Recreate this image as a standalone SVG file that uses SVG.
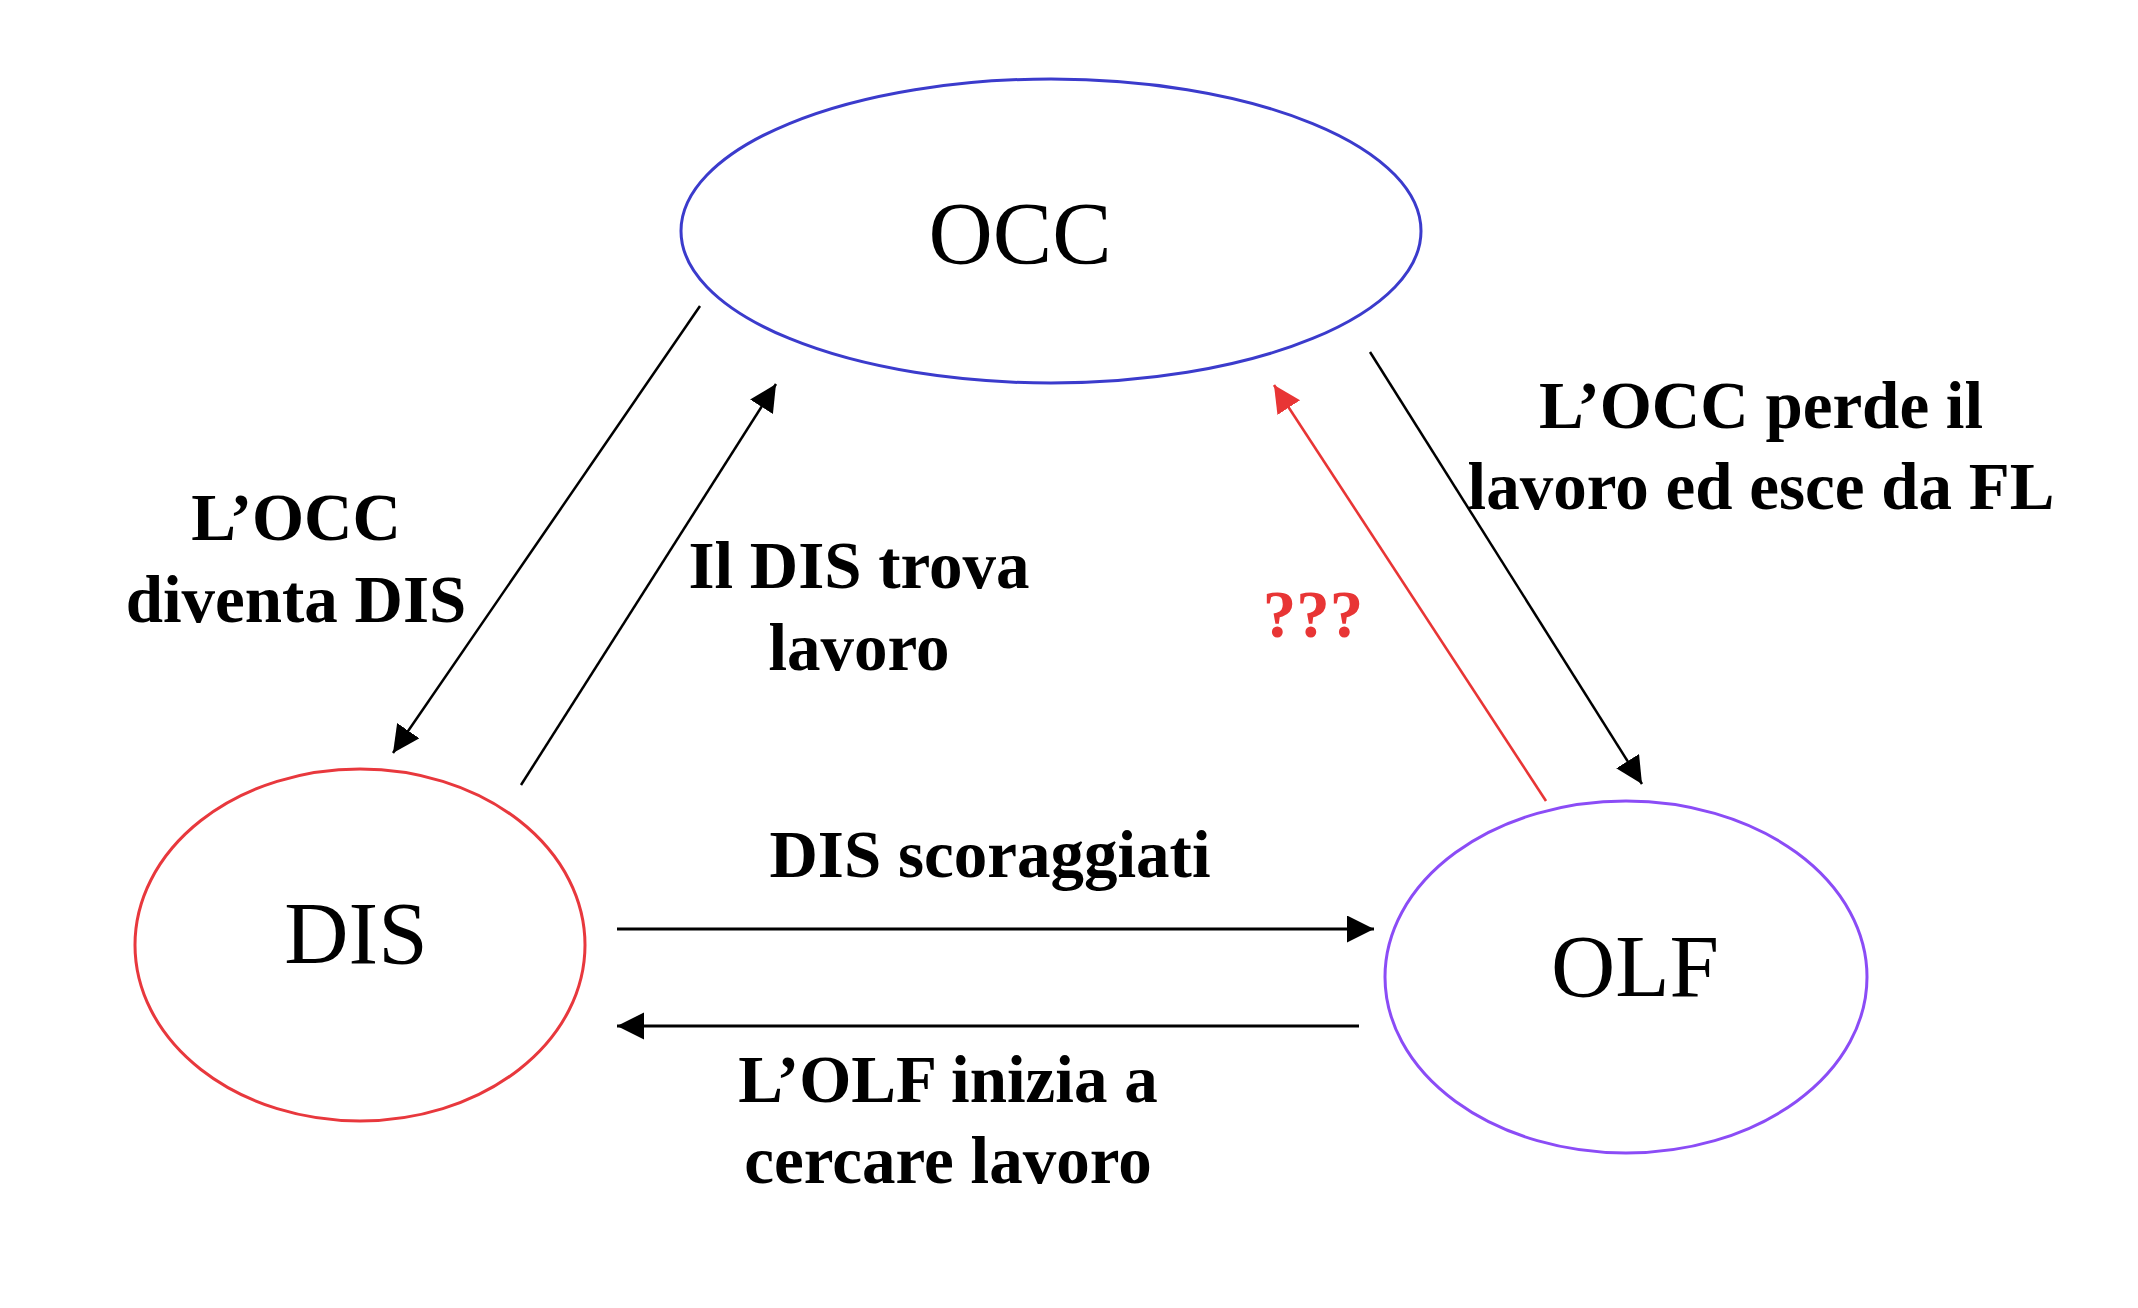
<svg xmlns="http://www.w3.org/2000/svg" width="2138" height="1308" viewBox="0 0 2138 1308">
<style>
.node{fill:none;stroke-width:3}
.nlabel{font-family:"Liberation Serif","Times New Roman",serif;font-size:89px;fill:#000;text-anchor:middle}
.elabel{font-family:"Liberation Serif","Times New Roman",serif;font-size:67px;font-weight:bold;fill:#000;text-anchor:middle}
.edge{fill:none;stroke:#000;stroke-width:2.5}
</style>
<defs>
<marker id="ah" markerUnits="userSpaceOnUse" markerWidth="28" markerHeight="28" refX="27" refY="13.5" orient="auto" viewBox="0 0 28 28">
<path d="M0,0 L27,13.5 L0,27 z" fill="#000"/>
</marker>
<marker id="ahr" markerUnits="userSpaceOnUse" markerWidth="28" markerHeight="28" refX="27" refY="13.5" orient="auto" viewBox="0 0 28 28">
<path d="M0,0 L27,13.5 L0,27 z" fill="#e83535"/>
</marker>
</defs>
<rect width="2138" height="1308" fill="#fff"/>
<g id="connectors">
<line class="edge" x1="700" y1="306" x2="393" y2="753" marker-end="url(#ah)"/>
<line class="edge" x1="521" y1="785" x2="776" y2="384" marker-end="url(#ah)"/>
<line class="edge" x1="1370" y1="352" x2="1642" y2="784" marker-end="url(#ah)"/>
<line class="edge" x1="1546" y1="801" x2="1274" y2="385" style="stroke:#e83535;stroke-width:2.6" marker-end="url(#ahr)"/>
<line class="edge" x1="617" y1="929" x2="1374" y2="929" style="stroke-width:3" marker-end="url(#ah)"/>
<line class="edge" x1="1359" y1="1026" x2="617" y2="1026" style="stroke-width:3" marker-end="url(#ah)"/>
<text class="elabel" x="296" y="540">L’OCC</text>
<text class="elabel" x="296" y="622">diventa DIS</text>
<text class="elabel" x="859" y="588">Il DIS trova</text>
<text class="elabel" x="859" y="670">lavoro</text>
<text class="elabel" x="1761" y="428">L’OCC perde il</text>
<text class="elabel" x="1761" y="509">lavoro ed esce da FL</text>
<text class="elabel" x="1313" y="637" style="fill:#e83535">???</text>
<text class="elabel" x="990" y="877">DIS scoraggiati</text>
<text class="elabel" x="948" y="1102">L’OLF inizia a</text>
<text class="elabel" x="948" y="1183">cercare lavoro</text>
</g>
<g id="node-occ">
<ellipse class="node" cx="1051" cy="231" rx="370" ry="152" stroke="#3b3bcc"/>
<text class="nlabel" x="1020" y="263">OCC</text>
</g>
<g id="node-dis">
<ellipse class="node" cx="360" cy="945" rx="225" ry="176" stroke="#e8383d"/>
<text class="nlabel" x="356" y="963">DIS</text>
</g>
<g id="node-olf">
<ellipse class="node" cx="1626" cy="977" rx="241" ry="176" stroke="#8b4cf6"/>
<text class="nlabel" x="1635" y="996">OLF</text>
</g>
</svg>
